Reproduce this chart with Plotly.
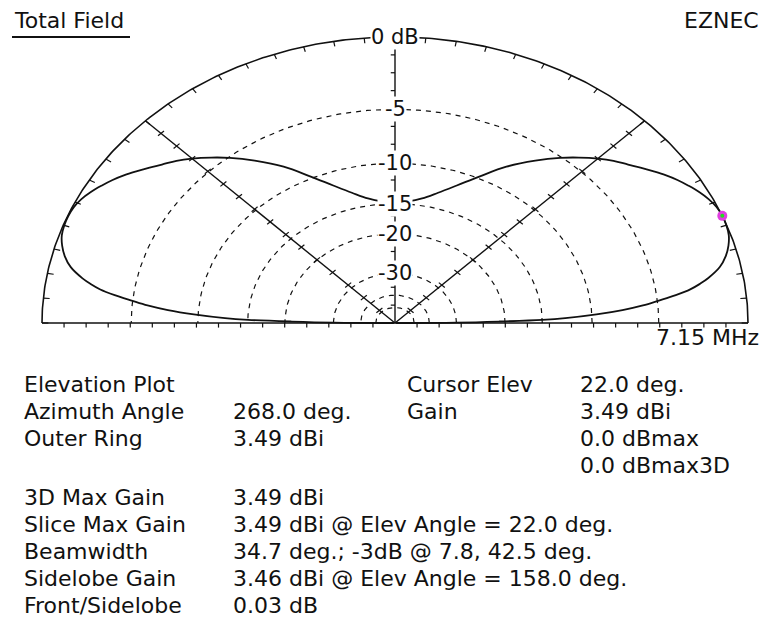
import math
import plotly.graph_objects as go

# ---------------- data ----------------
elev_deg = [0, 0.5, 1, 1.5, 2, 3, 4, 5, 6, 7, 8, 9, 10, 12, 14, 16, 18, 20, 22, 24, 26, 28,
            30, 32, 34, 36, 38, 40, 42.5, 45, 48, 51, 55, 60, 65, 70, 75, 80, 85, 90,
            95, 100, 105, 110, 115, 120, 125, 129, 132, 135, 137.5, 140, 142, 144, 146,
            148, 150, 152, 154, 156, 158, 160, 162, 164, 166, 168, 170, 171, 172, 173,
            174, 175, 176, 177, 178, 178.5, 179, 179.5, 180]
gain_dbi = [-95.51, -26.51, -17.51, -11.51, -9.01, -6.11, -4.01, -2.51, -1.41, -0.31, 0.59,
            1.19, 1.69, 2.44, 2.89, 3.19, 3.39, 3.47, 3.49, 3.44, 3.29, 3.07, 2.79, 2.49,
            2.14, 1.74, 1.34, 0.94, 0.49, -0.06, -0.81, -1.61, -2.81, -4.41, -6.31, -8.01,
            -9.41, -10.51, -11.11, -11.31,
            -11.11, -10.51, -9.41, -8.01, -6.31, -4.41, -2.81, -1.61, -0.81, -0.06, 0.49,
            0.94, 1.34, 1.74, 2.14, 2.49, 2.79, 3.07, 3.29, 3.42, 3.46, 3.44, 3.36, 3.16,
            2.86, 2.41, 1.66, 1.16, 0.56, -0.34, -1.44, -2.54, -4.04, -6.14, -9.04, -11.54,
            -17.54, -26.54, -95.51]
outer_ring_dbi = 3.49
ring_db = [-5, -10, -15, -20, -30, -40, -50]
label_db = [0, -5, -10, -15, -20, -30]
label_text = ["0 dB", "-5", "-10", "-15", "-20", "-30"]
guide_angles_deg = [45, 135]
cursor_elev_deg = 22.0
cursor_gain_dbi = 3.49

info_left_labels = ["Elevation Plot", "Azimuth Angle", "Outer Ring", "",
                    "3D Max Gain", "Slice Max Gain", "Beamwidth", "Sidelobe Gain", "Front/Sidelobe"]
info_left_values = ["", "268.0 deg.", "3.49 dBi", "",
                    "3.49 dBi", "3.49 dBi @ Elev Angle = 22.0 deg.",
                    "34.7 deg.; -3dB @ 7.8, 42.5 deg.",
                    "3.46 dBi @ Elev Angle = 158.0 deg.", "0.03 dB"]
info_right_labels = ["Cursor Elev", "Gain", "", ""]
info_right_values = ["22.0 deg.", "3.49 dBi", "0.0 dBmax", "0.0 dBmax3D"]

# ---------------- geometry ----------------
W, H = 762, 617
CX, CY = 395, 323          # pixel centre of the plot
RX, RY = 353, 286          # pixel radius horizontally / vertically
XMIN, XMAX = -CX / RX, (W - CX) / RX
YMAX = CY / RY
YMIN = YMAX - H / RY


def arrl(db):
    """ARRL log scale: radius for a level in dB below the outer ring."""
    return 0.89 ** (-db / 2.0)


def pol(r, deg):
    a = math.radians(deg)
    return r * math.cos(a), r * math.sin(a)


def px(x):
    return x / W


def py(y):
    return 1 - y / H


FONT = "DejaVu Sans"
FS = 22
BLACK = "#111111"

fig = go.Figure()

# dashed rings
for db in ring_db:
    r = arrl(db)
    xs, ys = [], []
    for i in range(181):
        x, y = pol(r, i)
        xs.append(x)
        ys.append(y)
    fig.add_trace(go.Scatter(x=xs, y=ys, mode="lines",
                             line=dict(color=BLACK, width=1.2, dash="5px,5px"),
                             hoverinfo="skip"))

# outer ring + baseline
xs, ys = [], []
for i in range(361):
    x, y = pol(1.0, i / 2)
    xs.append(x)
    ys.append(y)
fig.add_trace(go.Scatter(x=xs, y=ys, mode="lines", line=dict(color=BLACK, width=1.6),
                         hoverinfo="skip"))
fig.add_trace(go.Scatter(x=[-1, 1], y=[0, 0], mode="lines", line=dict(color=BLACK, width=1.6),
                         hoverinfo="skip"))

# ticks
tx, ty = [], []
for i in range(0, 181, 5):
    x0, y0 = pol(1.0, i)
    x1, y1 = pol(0.982, i)
    tx += [x0, x1, None]
    ty += [y0, y1, None]
for k in range(1, 16):
    f = k / 16
    for s in (-1, 1):
        tx += [s * f, s * f, None]
        ty += [0, -0.016, None]
    tx += [0, -0.012, None]
    ty += [f, f, None]
    for ang in guide_angles_deg:
        x0, y0 = pol(f, ang)
        dx, dy = pol(0.012, ang + 90)
        tx += [x0 - dx, x0 + dx, None]
        ty += [y0 - dy, y0 + dy, None]
fig.add_trace(go.Scatter(x=tx, y=ty, mode="lines", line=dict(color=BLACK, width=1.2),
                         hoverinfo="skip"))

# vertical axis and 45-degree guide lines
fig.add_trace(go.Scatter(x=[0, 0], y=[0, 0.97], mode="lines", line=dict(color=BLACK, width=1.4),
                         hoverinfo="skip"))
for ang in guide_angles_deg:
    x1, y1 = pol(1.0, ang)
    fig.add_trace(go.Scatter(x=[0, x1], y=[0, y1], mode="lines",
                             line=dict(color=BLACK, width=1.4), hoverinfo="skip"))

# pattern
pxs, pys = [], []
for a, g in zip(elev_deg, gain_dbi):
    x, y = pol(arrl(g - outer_ring_dbi), a)
    pxs.append(x)
    pys.append(y)
fig.add_trace(go.Scatter(x=pxs, y=pys, mode="lines", line=dict(color=BLACK, width=1.8),
                         line_shape="spline", hoverinfo="skip"))

# cursor
cx, cy = pol(arrl(cursor_gain_dbi - outer_ring_dbi), cursor_elev_deg)
fig.add_trace(go.Scatter(x=[cx], y=[cy], mode="markers",
                         marker=dict(color="#e040e0", size=10), hoverinfo="skip"))
fig.add_trace(go.Scatter(x=[cx], y=[cy], mode="markers",
                         marker=dict(color="#22dd22", size=4), hoverinfo="skip"))

annotations = []
for db, t in zip(label_db, label_text):
    annotations.append(dict(x=0, y=arrl(db), xref="x", yref="y", text=t, showarrow=False,
                            font=dict(family=FONT, size=FS - 1, color=BLACK), bgcolor="white",
                            borderpad=0, xanchor="center", yanchor="middle"))


def txt(x, y, t, anchor="left"):
    annotations.append(dict(x=px(x), y=py(y), xref="paper", yref="paper", text=t,
                            showarrow=False, xanchor=anchor, yanchor="middle",
                            font=dict(family=FONT, size=FS, color=BLACK)))


txt(12, 20, "Total Field")
txt(761, 20, "EZNEC", "right")
txt(761, 337, "7.15 MHz", "right")

rows = [384, 411, 438, 465, 497, 524, 551, 578, 605]
for y, lab, val in zip(rows, info_left_labels, info_left_values):
    if lab:
        txt(22, y, lab)
    if val:
        txt(231, y, val)
for y, lab, val in zip(rows, info_right_labels, info_right_values):
    if lab:
        txt(405, y, lab)
    if val:
        txt(578, y, val)

fig.update_layout(
    width=W, height=H, margin=dict(l=0, r=0, t=0, b=0),
    paper_bgcolor="white", plot_bgcolor="white", showlegend=False,
    xaxis=dict(range=[XMIN, XMAX], visible=False, fixedrange=True),
    yaxis=dict(range=[YMIN, YMAX], visible=False, fixedrange=True),
    annotations=annotations,
    shapes=[dict(type="line", xref="paper", yref="paper", x0=px(12), x1=px(130),
                 y0=py(37), y1=py(37), line=dict(color=BLACK, width=2))],
)

fig.write_html("out.html", config={"displayModeBar": False},
               post_script="document.body.style.margin='0px';"
                           "document.body.style.overflow='hidden';")
